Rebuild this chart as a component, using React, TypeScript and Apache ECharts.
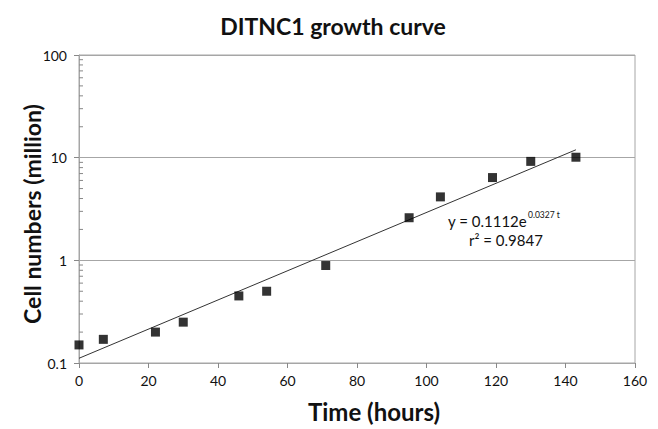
import React, { useEffect, useRef } from "react";
import * as echarts from "echarts";

const timeHours = [0, 7, 22, 30, 46, 54, 71, 95, 104, 119, 130, 143];
const cellMillions = [0.15, 0.17, 0.2, 0.25, 0.45, 0.5, 0.89, 2.6, 4.15, 6.4, 9.2, 10.1];
const fitA = 0.1112;
const fitK = 0.0327;
const fitRange = [0, 143];
const minorTickValues = [0.2, 0.3, 0.4, 0.5, 0.6, 0.7, 0.8, 0.9, 2, 3, 4, 5, 6, 7, 8, 9, 20, 30, 40, 50, 60, 70, 80, 90];

const FONT = "Lato, 'Open Sans', sans-serif";

export default function App() {
  const ref = useRef<HTMLDivElement>(null);
  useEffect(() => {
    if (!ref.current) return;
    const chart = echarts.init(ref.current, null, { renderer: "svg" });
    const fitLine = fitRange.map((t) => [t, fitA * Math.exp(fitK * t)]);
    chart.setOption({
      animation: false,
      backgroundColor: "#ffffff",
      textStyle: { fontFamily: FONT },
      title: {
        text: "DITNC1 growth curve",
        left: 328,
        textAlign: "center",
        top: 9,
        textStyle: { fontFamily: FONT, fontSize: 23, fontWeight: "bold", color: "#111" },
      },
      grid: { left: 79, right: 23, top: 55, bottom: 66, show: true, borderColor: "#a6a6a6", borderWidth: 1 },
      xAxis: {
        type: "value",
        min: 0,
        max: 160,
        interval: 20,
        name: "Time (hours)",
        nameLocation: "middle",
        nameGap: 36,
        nameMoveOverlap: false,
        nameTextStyle: { fontFamily: FONT, fontSize: 24, fontWeight: "bold", color: "#111", padding: [0, 0, 0, 34] },
        axisLine: { show: true, lineStyle: { color: "#a6a6a6" } },
        axisTick: { show: true, inside: false, length: 5, lineStyle: { color: "#888" } },
        axisLabel: { fontFamily: FONT, fontSize: 14, color: "#111", margin: 10 },
        splitLine: { show: false },
      },
      yAxis: {
        type: "log",
        logBase: 10,
        min: 0.1,
        max: 100,
        name: "Cell numbers (million)",
        nameLocation: "middle",
        nameGap: 36,
        nameMoveOverlap: false,
        nameTextStyle: { fontFamily: FONT, fontSize: 23, fontWeight: "bold", color: "#111", padding: [0, 10, 0, 0] },
        axisLine: { show: true, lineStyle: { color: "#a6a6a6" } },
        axisTick: { show: true, inside: false, length: 5, lineStyle: { color: "#888" } },
        axisLabel: {
          fontFamily: FONT,
          fontSize: 14,
          color: "#111",
          margin: 12,
          formatter: (v: number) => String(parseFloat(v.toPrecision(3))),
        },
        splitLine: { show: true, lineStyle: { color: "#a6a6a6", width: 1 } },
      },
      series: [
        {
          type: "custom",
          silent: true,
          data: minorTickValues.map((v) => [0, v]),
          renderItem: (params: any, api: any) => {
            const p = api.coord([0, api.value(1)]);
            return {
              type: "line",
              shape: { x1: p[0], y1: p[1], x2: p[0] + 4, y2: p[1] },
              style: { stroke: "#888", lineWidth: 1 },
            };
          },
          z: 1,
        },
        {
          type: "line",
          data: fitLine,
          symbol: "none",
          lineStyle: { color: "#333", width: 1 },
          z: 2,
        },
        {
          type: "scatter",
          data: timeHours.map((t, i) => [t, cellMillions[i]]),
          symbol: "rect",
          symbolSize: 9,
          itemStyle: { color: "#000" },
          z: 3,
        },
      ],
      graphic: [
        {
          type: "text",
          x: 448,
          y: 221,
          style: { text: "y = 0.1112e", font: `15px ${FONT}`, fill: "#111", verticalAlign: "middle" },
        },
        {
          type: "text",
          x: 528,
          y: 215,
          style: { text: "0.0327 t", font: `8.5px ${FONT}`, fill: "#111", verticalAlign: "middle" },
        },
        {
          type: "text",
          x: 469,
          y: 240,
          style: { text: "r² = 0.9847", font: `15px ${FONT}`, fill: "#111", verticalAlign: "middle" },
        },
      ],
    });
    return () => chart.dispose();
  }, []);
  return <div ref={ref} style={{ position: "absolute", left: 0, top: 0, width: 658, height: 429 }} />;
}
